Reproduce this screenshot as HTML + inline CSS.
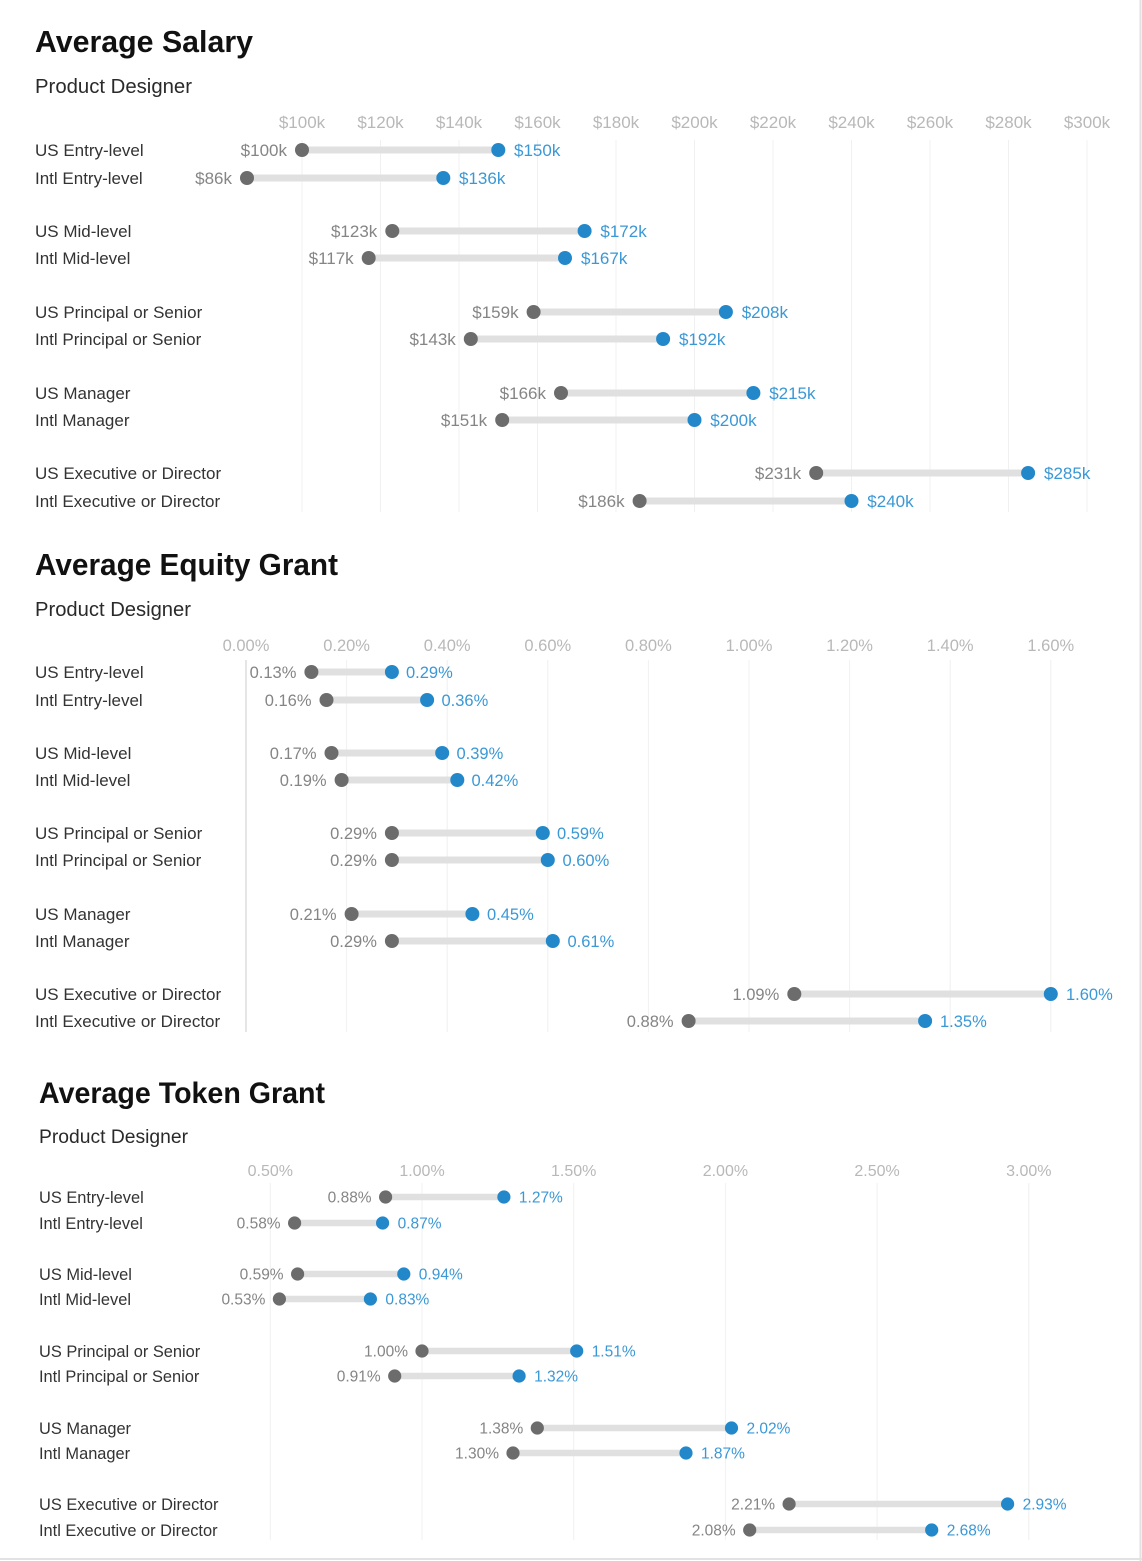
<!DOCTYPE html>
<html><head><meta charset="utf-8"><style>
html,body{margin:0;padding:0;background:#fff;}
svg{display:block;}
text{font-family:"Liberation Sans",Arial,sans-serif;}
.t{font-weight:bold;fill:#111;}
.s{fill:#2a2a2a;}
.r{fill:#333;}
.k{fill:#b8b8b8;}
.g{fill:#858585;}
.b{fill:#3a98d6;}
.grid{stroke:#f0f0f0;stroke-width:1;}
.bar{stroke:#e0e0e0;stroke-width:7;}
.dg{fill:#6c6c6c;}
.db{fill:#2388ca;}
</style></head><body>
<svg width="1142" height="1561" viewBox="0 0 1142 1561" xmlns="http://www.w3.org/2000/svg">
<rect width="1142" height="1561" fill="#fff"/>
<line x1="1140.5" y1="0" x2="1140.5" y2="1561" stroke="#e2e2e2" stroke-width="2"/>
<line x1="0" y1="1559" x2="1142" y2="1559" stroke="#e2e2e2" stroke-width="2"/>

<!-- ================= SALARY ================= -->
<text class="t" x="35" y="52" font-size="31" textLength="218" lengthAdjust="spacingAndGlyphs">Average Salary</text>
<text class="s" x="35" y="93" font-size="20" textLength="157" lengthAdjust="spacingAndGlyphs">Product Designer</text>
<g class="grid">
<line x1="302" y1="140" x2="302" y2="512"/><line x1="380.5" y1="140" x2="380.5" y2="512"/><line x1="459" y1="140" x2="459" y2="512"/><line x1="537.5" y1="140" x2="537.5" y2="512"/><line x1="616" y1="140" x2="616" y2="512"/><line x1="694.5" y1="140" x2="694.5" y2="512"/><line x1="773" y1="140" x2="773" y2="512"/><line x1="851.5" y1="140" x2="851.5" y2="512"/><line x1="930" y1="140" x2="930" y2="512"/><line x1="1008.5" y1="140" x2="1008.5" y2="512"/><line x1="1087" y1="140" x2="1087" y2="512"/>
</g>
<g font-size="17" text-anchor="middle" class="k">
<text x="302" y="128">$100k</text><text x="380.5" y="128">$120k</text><text x="459" y="128">$140k</text><text x="537.5" y="128">$160k</text><text x="616" y="128">$180k</text><text x="694.5" y="128">$200k</text><text x="773" y="128">$220k</text><text x="851.5" y="128">$240k</text><text x="930" y="128">$260k</text><text x="1008.5" y="128">$280k</text><text x="1087" y="128">$300k</text>
</g>
<g font-size="17" class="r">
<text x="35" y="156">US Entry-level</text><text x="35" y="184">Intl Entry-level</text>
<text x="35" y="237">US Mid-level</text><text x="35" y="264">Intl Mid-level</text>
<text x="35" y="318">US Principal or Senior</text><text x="35" y="345">Intl Principal or Senior</text>
<text x="35" y="399">US Manager</text><text x="35" y="426">Intl Manager</text>
<text x="35" y="479">US Executive or Director</text><text x="35" y="507">Intl Executive or Director</text>
</g>
<g class="bar">
<line x1="302" y1="150" x2="498.3" y2="150"/><line x1="247" y1="178" x2="443.3" y2="178"/>
<line x1="392.3" y1="231" x2="584.6" y2="231"/><line x1="368.7" y1="258" x2="565" y2="258"/>
<line x1="533.6" y1="312" x2="725.9" y2="312"/><line x1="470.8" y1="339" x2="663.1" y2="339"/>
<line x1="561" y1="393" x2="753.4" y2="393"/><line x1="502.2" y1="420" x2="694.5" y2="420"/>
<line x1="816.2" y1="473" x2="1028.1" y2="473"/><line x1="639.6" y1="501" x2="851.5" y2="501"/>
</g>
<g class="dg">
<circle cx="302" cy="150" r="7"/><circle cx="247" cy="178" r="7"/><circle cx="392.3" cy="231" r="7"/><circle cx="368.7" cy="258" r="7"/><circle cx="533.6" cy="312" r="7"/><circle cx="470.8" cy="339" r="7"/><circle cx="561" cy="393" r="7"/><circle cx="502.2" cy="420" r="7"/><circle cx="816.2" cy="473" r="7"/><circle cx="639.6" cy="501" r="7"/>
</g>
<g class="db">
<circle cx="498.3" cy="150" r="7"/><circle cx="443.3" cy="178" r="7"/><circle cx="584.6" cy="231" r="7"/><circle cx="565" cy="258" r="7"/><circle cx="725.9" cy="312" r="7"/><circle cx="663.1" cy="339" r="7"/><circle cx="753.4" cy="393" r="7"/><circle cx="694.5" cy="420" r="7"/><circle cx="1028.1" cy="473" r="7"/><circle cx="851.5" cy="501" r="7"/>
</g>
<g font-size="17" text-anchor="end" class="g">
<text x="287" y="156">$100k</text><text x="232" y="184">$86k</text><text x="377.3" y="237">$123k</text><text x="353.7" y="264">$117k</text><text x="518.6" y="318">$159k</text><text x="455.8" y="345">$143k</text><text x="546" y="399">$166k</text><text x="487.2" y="426">$151k</text><text x="801.2" y="479">$231k</text><text x="624.6" y="507">$186k</text>
</g>
<g font-size="17" class="b">
<text x="514" y="156">$150k</text><text x="459" y="184">$136k</text><text x="600.4" y="237">$172k</text><text x="581" y="264">$167k</text><text x="741.7" y="318">$208k</text><text x="679" y="345">$192k</text><text x="769.2" y="399">$215k</text><text x="710.3" y="426">$200k</text><text x="1044" y="479">$285k</text><text x="867.3" y="507">$240k</text>
</g>

<!-- ================= EQUITY ================= -->
<text class="t" x="35" y="575" font-size="31" textLength="303" lengthAdjust="spacingAndGlyphs">Average Equity Grant</text>
<text class="s" x="35" y="616" font-size="20" textLength="156" lengthAdjust="spacingAndGlyphs">Product Designer</text>
<g class="grid">
<line x1="346.6" y1="660" x2="346.6" y2="1032"/><line x1="447.2" y1="660" x2="447.2" y2="1032"/><line x1="547.8" y1="660" x2="547.8" y2="1032"/><line x1="648.4" y1="660" x2="648.4" y2="1032"/><line x1="749" y1="660" x2="749" y2="1032"/><line x1="849.6" y1="660" x2="849.6" y2="1032"/><line x1="950.2" y1="660" x2="950.2" y2="1032"/><line x1="1050.8" y1="660" x2="1050.8" y2="1032"/>
</g>
<line x1="246" y1="660" x2="246" y2="1032" stroke="#d4d4d4" stroke-width="1.2"/>
<g font-size="16.5" text-anchor="middle" class="k">
<text x="246" y="651">0.00%</text><text x="346.6" y="651">0.20%</text><text x="447.2" y="651">0.40%</text><text x="547.8" y="651">0.60%</text><text x="648.4" y="651">0.80%</text><text x="749" y="651">1.00%</text><text x="849.6" y="651">1.20%</text><text x="950.2" y="651">1.40%</text><text x="1050.8" y="651">1.60%</text>
</g>
<g font-size="17" class="r">
<text x="35" y="678">US Entry-level</text><text x="35" y="706">Intl Entry-level</text>
<text x="35" y="759">US Mid-level</text><text x="35" y="786">Intl Mid-level</text>
<text x="35" y="839">US Principal or Senior</text><text x="35" y="866">Intl Principal or Senior</text>
<text x="35" y="920">US Manager</text><text x="35" y="947">Intl Manager</text>
<text x="35" y="1000">US Executive or Director</text><text x="35" y="1027">Intl Executive or Director</text>
</g>
<g class="bar">
<line x1="311.4" y1="672" x2="391.9" y2="672"/><line x1="326.5" y1="700" x2="427.1" y2="700"/>
<line x1="331.5" y1="753" x2="442.2" y2="753"/><line x1="341.6" y1="780" x2="457.3" y2="780"/>
<line x1="391.9" y1="833" x2="542.8" y2="833"/><line x1="391.9" y1="860" x2="547.8" y2="860"/>
<line x1="351.6" y1="914" x2="472.4" y2="914"/><line x1="391.9" y1="941" x2="552.8" y2="941"/>
<line x1="794.3" y1="994" x2="1050.8" y2="994"/><line x1="688.6" y1="1021" x2="925.1" y2="1021"/>
</g>
<g class="dg">
<circle cx="311.4" cy="672" r="7"/><circle cx="326.5" cy="700" r="7"/><circle cx="331.5" cy="753" r="7"/><circle cx="341.6" cy="780" r="7"/><circle cx="391.9" cy="833" r="7"/><circle cx="391.9" cy="860" r="7"/><circle cx="351.6" cy="914" r="7"/><circle cx="391.9" cy="941" r="7"/><circle cx="794.3" cy="994" r="7"/><circle cx="688.6" cy="1021" r="7"/>
</g>
<g class="db">
<circle cx="391.9" cy="672" r="7"/><circle cx="427.1" cy="700" r="7"/><circle cx="442.2" cy="753" r="7"/><circle cx="457.3" cy="780" r="7"/><circle cx="542.8" cy="833" r="7"/><circle cx="547.8" cy="860" r="7"/><circle cx="472.4" cy="914" r="7"/><circle cx="552.8" cy="941" r="7"/><circle cx="1050.8" cy="994" r="7"/><circle cx="925.1" cy="1021" r="7"/>
</g>
<g font-size="16.5" text-anchor="end" class="g">
<text x="296.4" y="678">0.13%</text><text x="311.5" y="706">0.16%</text><text x="316.5" y="759">0.17%</text><text x="326.6" y="786">0.19%</text><text x="376.9" y="839">0.29%</text><text x="376.9" y="866">0.29%</text><text x="336.6" y="920">0.21%</text><text x="376.9" y="947">0.29%</text><text x="779.3" y="1000">1.09%</text><text x="673.6" y="1027">0.88%</text>
</g>
<g font-size="16.5" class="b">
<text x="406" y="678">0.29%</text><text x="441.5" y="706">0.36%</text><text x="456.5" y="759">0.39%</text><text x="471.5" y="786">0.42%</text><text x="557" y="839">0.59%</text><text x="562.5" y="866">0.60%</text><text x="487" y="920">0.45%</text><text x="567.5" y="947">0.61%</text><text x="1066" y="1000">1.60%</text><text x="940" y="1027">1.35%</text>
</g>

<!-- ================= TOKEN ================= -->
<text class="t" x="39" y="1103" font-size="29.5" textLength="286" lengthAdjust="spacingAndGlyphs">Average Token Grant</text>
<text class="s" x="39" y="1143" font-size="19" textLength="149" lengthAdjust="spacingAndGlyphs">Product Designer</text>
<g class="grid">
<line x1="270.3" y1="1183" x2="270.3" y2="1540"/><line x1="422" y1="1183" x2="422" y2="1540"/><line x1="573.7" y1="1183" x2="573.7" y2="1540"/><line x1="725.4" y1="1183" x2="725.4" y2="1540"/><line x1="877.1" y1="1183" x2="877.1" y2="1540"/><line x1="1028.8" y1="1183" x2="1028.8" y2="1540"/>
</g>
<g font-size="16" text-anchor="middle" class="k">
<text x="270.3" y="1176">0.50%</text><text x="422" y="1176">1.00%</text><text x="573.7" y="1176">1.50%</text><text x="725.4" y="1176">2.00%</text><text x="877.1" y="1176">2.50%</text><text x="1028.8" y="1176">3.00%</text>
</g>
<g font-size="16.4" class="r">
<text x="39" y="1203">US Entry-level</text><text x="39" y="1229">Intl Entry-level</text>
<text x="39" y="1280">US Mid-level</text><text x="39" y="1305">Intl Mid-level</text>
<text x="39" y="1357">US Principal or Senior</text><text x="39" y="1382">Intl Principal or Senior</text>
<text x="39" y="1434">US Manager</text><text x="39" y="1459">Intl Manager</text>
<text x="39" y="1510">US Executive or Director</text><text x="39" y="1536">Intl Executive or Director</text>
</g>
<g class="bar" style="stroke-width:6.5">
<line x1="385.6" y1="1197" x2="503.9" y2="1197"/><line x1="294.6" y1="1223" x2="382.6" y2="1223"/>
<line x1="297.6" y1="1274" x2="403.8" y2="1274"/><line x1="279.4" y1="1299" x2="370.4" y2="1299"/>
<line x1="422" y1="1351" x2="576.7" y2="1351"/><line x1="394.7" y1="1376" x2="519.1" y2="1376"/>
<line x1="537.3" y1="1428" x2="731.5" y2="1428"/><line x1="513" y1="1453" x2="686" y2="1453"/>
<line x1="789.1" y1="1504" x2="1007.6" y2="1504"/><line x1="749.7" y1="1530" x2="931.7" y2="1530"/>
</g>
<g class="dg">
<circle cx="385.6" cy="1197" r="6.6"/><circle cx="294.6" cy="1223" r="6.6"/><circle cx="297.6" cy="1274" r="6.6"/><circle cx="279.4" cy="1299" r="6.6"/><circle cx="422" cy="1351" r="6.6"/><circle cx="394.7" cy="1376" r="6.6"/><circle cx="537.3" cy="1428" r="6.6"/><circle cx="513" cy="1453" r="6.6"/><circle cx="789.1" cy="1504" r="6.6"/><circle cx="749.7" cy="1530" r="6.6"/>
</g>
<g class="db">
<circle cx="503.9" cy="1197" r="6.6"/><circle cx="382.6" cy="1223" r="6.6"/><circle cx="403.8" cy="1274" r="6.6"/><circle cx="370.4" cy="1299" r="6.6"/><circle cx="576.7" cy="1351" r="6.6"/><circle cx="519.1" cy="1376" r="6.6"/><circle cx="731.5" cy="1428" r="6.6"/><circle cx="686" cy="1453" r="6.6"/><circle cx="1007.6" cy="1504" r="6.6"/><circle cx="931.7" cy="1530" r="6.6"/>
</g>
<g font-size="15.5" text-anchor="end" class="g">
<text x="371.6" y="1202.5">0.88%</text><text x="280.6" y="1228.5">0.58%</text><text x="283.6" y="1279.5">0.59%</text><text x="265.4" y="1304.5">0.53%</text><text x="408" y="1356.5">1.00%</text><text x="380.7" y="1381.5">0.91%</text><text x="523.3" y="1433.5">1.38%</text><text x="499" y="1458.5">1.30%</text><text x="775.1" y="1509.5">2.21%</text><text x="735.7" y="1535.5">2.08%</text>
</g>
<g font-size="15.5" class="b">
<text x="518.9" y="1202.5">1.27%</text><text x="397.6" y="1228.5">0.87%</text><text x="418.8" y="1279.5">0.94%</text><text x="385.4" y="1304.5">0.83%</text><text x="591.7" y="1356.5">1.51%</text><text x="534.1" y="1381.5">1.32%</text><text x="746.5" y="1433.5">2.02%</text><text x="701" y="1458.5">1.87%</text><text x="1022.6" y="1509.5">2.93%</text><text x="946.7" y="1535.5">2.68%</text>
</g>
</svg>
</body></html>
